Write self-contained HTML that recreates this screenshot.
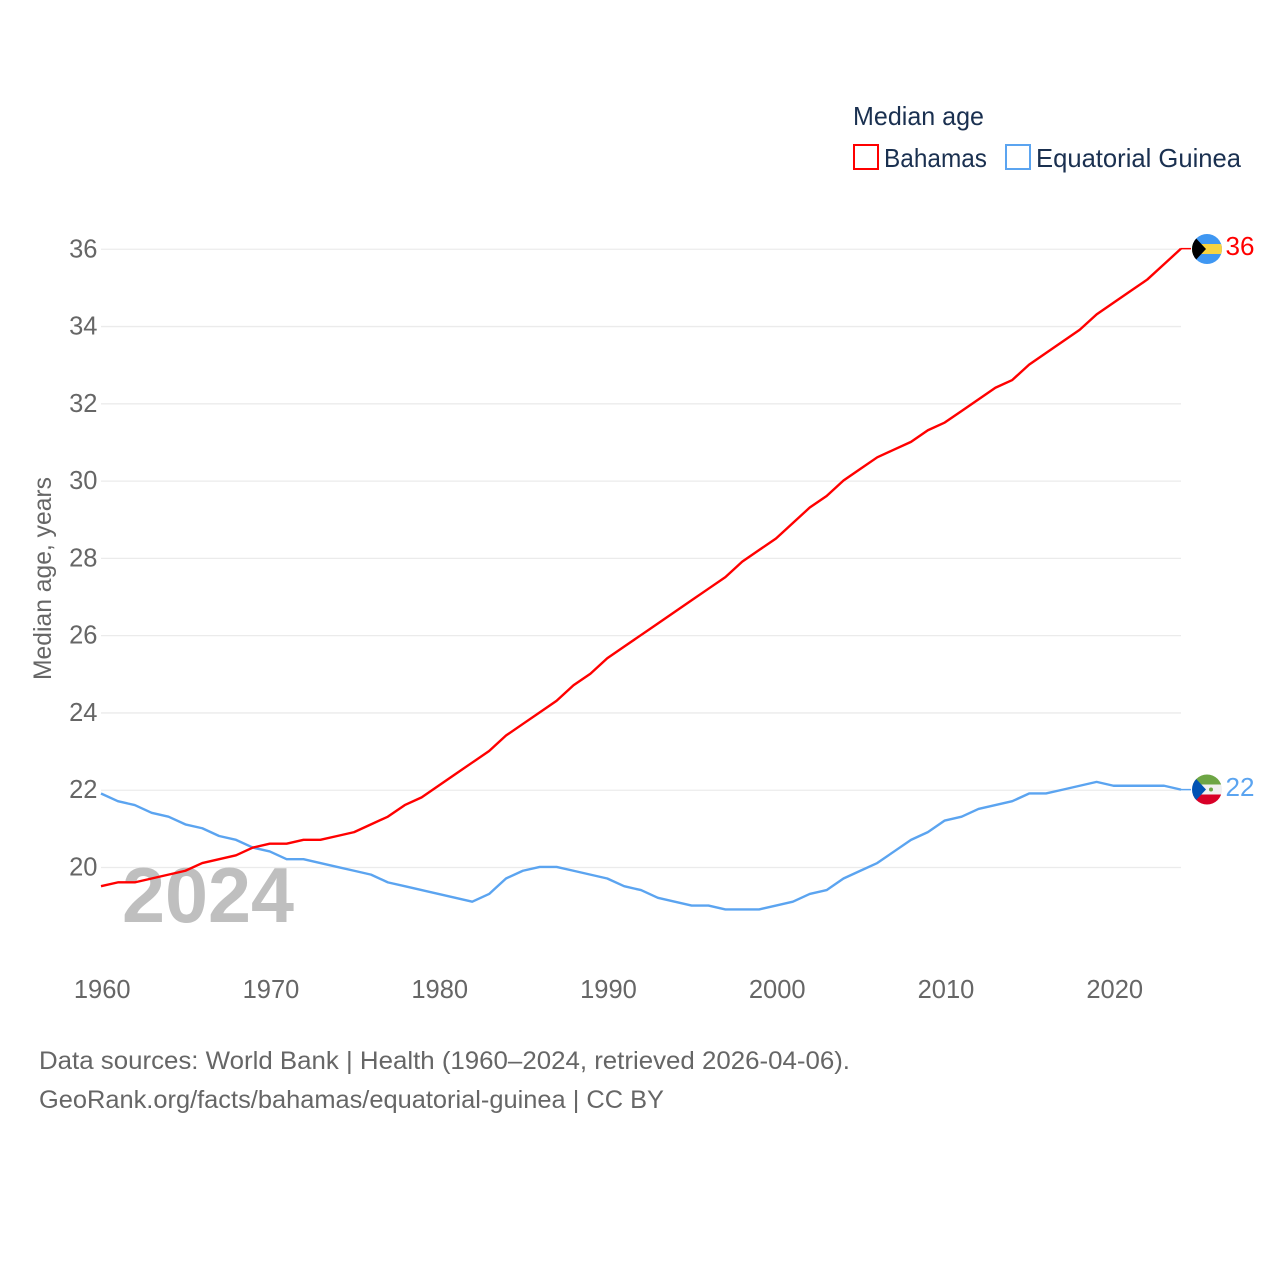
<!DOCTYPE html>
<html lang="en">
<head>
<meta charset="utf-8">
<title>Median age: Bahamas and Equatorial Guinea</title>
<style>
html,body{margin:0;padding:0;background:#fff;}
svg{display:block;}
text{font-family:"Liberation Sans",sans-serif;}
</style>
</head>
<body>
<svg id="chart" xmlns="http://www.w3.org/2000/svg" width="1280" height="1280" viewBox="0 0 1280 1280">
  <defs>
    <clipPath id="flag-clip-a"><circle cx="1207" cy="249" r="15"/></clipPath>
    <clipPath id="flag-clip-b"><circle cx="1207" cy="789.5" r="15"/></clipPath>
  </defs>
  <rect x="0" y="0" width="1280" height="1280" fill="#ffffff"/>

  <g>
    <text x="853" y="125" font-size="26" fill="#1a3050" textLength="131" lengthAdjust="spacingAndGlyphs">Median age</text>
    <g>
      <rect x="854" y="145" width="24" height="24" fill="none" stroke="#ff0000" stroke-width="2"/>
      <text x="884" y="167" font-size="26" fill="#1a3050" textLength="103" lengthAdjust="spacingAndGlyphs">Bahamas</text>
    </g>
    <g>
      <rect x="1006" y="145" width="24" height="24" fill="none" stroke="#5ba4f0" stroke-width="2"/>
      <text x="1036" y="167" font-size="26" fill="#1a3050" textLength="205" lengthAdjust="spacingAndGlyphs">Equatorial Guinea</text>
    </g>
  </g>

  <g id="grid"></g>
  <g id="y-ticks"></g>
  <g id="x-ticks"></g>

  <text transform="translate(51,680) rotate(-90)" font-size="25" fill="#666666" textLength="203" lengthAdjust="spacingAndGlyphs">Median age, years</text>

  <text x="122" y="922" font-size="78" font-weight="700" fill="#bfbfbf" textLength="172" lengthAdjust="spacingAndGlyphs">2024</text>

  <g id="series"></g>

  <g clip-path="url(#flag-clip-a)">
    <rect x="1192" y="234" width="30" height="30" fill="#3f97f2"/>
    <rect x="1192" y="244" width="30" height="10" fill="#f7d340"/>
    <path d="M1192 234 L1206 249 L1192 264 Z" fill="#000000"/>
  </g>
  <g clip-path="url(#flag-clip-b)">
    <rect x="1192" y="774.5" width="30" height="10" fill="#6da544"/>
    <rect x="1192" y="784.5" width="30" height="10" fill="#f0f0f0"/>
    <rect x="1192" y="794.5" width="30" height="10" fill="#d80027"/>
    <path d="M1192 774.5 L1206 789.5 L1192 804.5 Z" fill="#0052b4"/>
    <circle cx="1211" cy="789.5" r="2" fill="#6da544"/>
  </g>

  <text x="1225.5" y="255" font-size="25.5" fill="#ff0000" textLength="29" lengthAdjust="spacingAndGlyphs">36</text>
  <text x="1225.5" y="796" font-size="25.5" fill="#5ba4f0" textLength="29" lengthAdjust="spacingAndGlyphs">22</text>

  <g>
    <text x="39" y="1069" font-size="25" fill="#666666" textLength="811" lengthAdjust="spacingAndGlyphs">Data sources: World Bank | Health (1960–2024, retrieved 2026-04-06).</text>
    <text x="39" y="1108" font-size="25" fill="#666666" textLength="625" lengthAdjust="spacingAndGlyphs">GeoRank.org/facts/bahamas/equatorial-guinea | CC BY</text>
  </g>
</svg>
<script>
const startYear = 1960;
const yTickValues = [20, 22, 24, 26, 28, 30, 32, 34, 36];
const xTickValues = [1960, 1970, 1980, 1990, 2000, 2010, 2020];
const bahamasValues = [19.5,19.6,19.6,19.7,19.8,19.9,20.1,20.2,20.3,20.5,20.6,20.6,20.7,20.7,20.8,20.9,21.1,21.3,21.6,21.8,22.1,22.4,22.7,23.0,23.4,23.7,24.0,24.3,24.7,25.0,25.4,25.7,26.0,26.3,26.6,26.9,27.2,27.5,27.9,28.2,28.5,28.9,29.3,29.6,30.0,30.3,30.6,30.8,31.0,31.3,31.5,31.8,32.1,32.4,32.6,33.0,33.3,33.6,33.9,34.3,34.6,34.9,35.2,35.6,36.0];
const equatorialGuineaValues = [21.9,21.7,21.6,21.4,21.3,21.1,21.0,20.8,20.7,20.5,20.4,20.2,20.2,20.1,20.0,19.9,19.8,19.6,19.5,19.4,19.3,19.2,19.1,19.3,19.7,19.9,20.0,20.0,19.9,19.8,19.7,19.5,19.4,19.2,19.1,19.0,19.0,18.9,18.9,18.9,19.0,19.1,19.3,19.4,19.7,19.9,20.1,20.4,20.7,20.9,21.2,21.3,21.5,21.6,21.7,21.9,21.9,22.0,22.1,22.2,22.1,22.1,22.1,22.1,22.0];

const NS = 'http://www.w3.org/2000/svg';
const lineOffset = -0.6;
function xScale(year) { return 101 + (year - 1960) * 16.875; }
function yScale(v) { return 867.5 - (v - 20) * 38.64; }

const grid = document.getElementById('grid');
const yTicks = document.getElementById('y-ticks');
const xTicks = document.getElementById('x-ticks');
const series = document.getElementById('series');

yTickValues.forEach(function (v) {
  const line = document.createElementNS(NS, 'line');
  
  
  line.setAttribute('x1', 101);
  line.setAttribute('x2', 1181);
  line.setAttribute('y1', yScale(v));
  line.setAttribute('y2', yScale(v));
  line.setAttribute('stroke', '#ebebeb');
  line.setAttribute('stroke-width', '1.3');
  grid.appendChild(line);

  const label = document.createElementNS(NS, 'text');
  
  
  label.setAttribute('x', 97.5);
  label.setAttribute('y', yScale(v) + 8);
  label.setAttribute('text-anchor', 'end');
  label.setAttribute('font-size', '25.5');
  label.setAttribute('fill', '#666666');
  label.textContent = String(v);
  yTicks.appendChild(label);
});

xTickValues.forEach(function (year) {
  const label = document.createElementNS(NS, 'text');
  
  
  label.setAttribute('x', xScale(year) + 1.2);
  label.setAttribute('y', 998);
  label.setAttribute('text-anchor', 'middle');
  label.setAttribute('font-size', '25.5');
  label.setAttribute('fill', '#666666');
  label.textContent = String(year);
  xTicks.appendChild(label);
});

function drawSeries(values, color, name) {
  const pts = values.map(function (v, i) {
    return xScale(startYear + i).toFixed(2) + ',' + (yScale(v) + lineOffset).toFixed(2);
  });
  const line = document.createElementNS(NS, 'polyline');
  
  
  line.setAttribute('points', pts.join(' '));
  line.setAttribute('fill', 'none');
  line.setAttribute('stroke', color);
  line.setAttribute('stroke-width', '2.4');
  line.setAttribute('stroke-linejoin', 'round');
  series.appendChild(line);

  const lastY = yScale(values[values.length - 1]) + lineOffset;
  const leader = document.createElementNS(NS, 'line');
  
  
  leader.setAttribute('x1', xScale(startYear + values.length - 1));
  leader.setAttribute('x2', xScale(startYear + values.length - 1) + 10);
  leader.setAttribute('y1', lastY);
  leader.setAttribute('y2', lastY);
  leader.setAttribute('stroke', color);
  leader.setAttribute('stroke-width', '1.5');
  series.appendChild(leader);
}

drawSeries(equatorialGuineaValues, '#5ba4f0', 'equatorial-guinea');
drawSeries(bahamasValues, '#ff0000', 'bahamas');
</script>
</body>
</html>
